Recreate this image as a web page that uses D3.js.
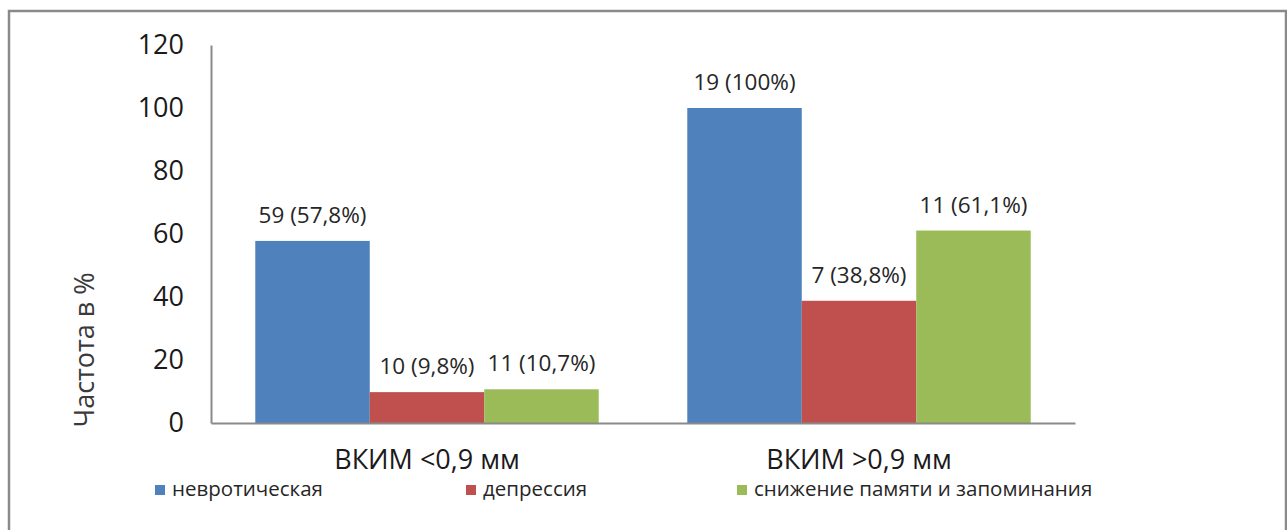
<!DOCTYPE html>
<html>
<head>
<meta charset="utf-8">
<script src="https://cdn.jsdelivr.net/npm/d3@7"></script>
<style>
  body { margin: 0; background: #fff; }
  text { font-family: "Open Sans", sans-serif; }
</style>
</head>
<body>
<script>
// chart data
const groups = ["ВКИМ <0,9 мм", "ВКИМ >0,9 мм"];
const seriesNames = ["невротическая", "депрессия", "снижение памяти и запоминания"];
const colors = ["#4F81BD", "#C0504D", "#9BBB59"];
const values = [
  [57.8, 9.8, 10.7],
  [100, 38.8, 61.1]
];
const labels = [
  ["59 (57,8%)", "10 (9,8%)", "11 (10,7%)"],
  ["19 (100%)", "7 (38,8%)", "11 (61,1%)"]
];
const yTicks = [0, 20, 40, 60, 80, 100, 120];

const width = 1287, height = 530;
const margin = {top: 45, right: 212, bottom: 107, left: 211};

const svg = d3.select("body").append("svg")
    .attr("width", width)
    .attr("height", height);

// outer frame
svg.append("rect")
    .attr("x", 9).attr("y", 11)
    .attr("width", 1277).attr("height", 540)
    .attr("fill", "none")
    .attr("stroke", "#8a8a8a")
    .attr("stroke-width", 2.5);

const x0 = d3.scaleBand()
    .domain(groups)
    .range([margin.left, width - margin.right])
    .paddingInner(0.205)
    .paddingOuter(0.1025);

const x1 = d3.scaleBand()
    .domain(d3.range(seriesNames.length))
    .range([0, x0.bandwidth()]);

const y = d3.scaleLinear()
    .domain([0, 120])
    .range([height - margin.bottom, margin.top]);

// bars
const g = svg.append("g");
groups.forEach((grp, gi) => {
  values[gi].forEach((v, si) => {
    const bx = x0(grp) + x1(si);
    g.append("rect")
        .attr("x", bx)
        .attr("y", y(v))
        .attr("width", x1.bandwidth())
        .attr("height", y(0) - y(v))
        .attr("fill", colors[si]);
    g.append("text")
        .attr("x", bx + x1.bandwidth() / 2)
        .attr("y", y(v) - 18)
        .attr("text-anchor", "middle")
        .attr("font-size", 22.5)
        .attr("fill", "#262626")
        .text(labels[gi][si]);
  });
});

// y axis
const yAxis = d3.axisLeft(y).tickValues(yTicks).tickSize(0).tickPadding(27);
const ya = svg.append("g")
    .attr("transform", `translate(${margin.left},0)`)
    .call(yAxis);
ya.select(".domain").attr("stroke", "#8a8a8a").attr("stroke-width", 2);
ya.selectAll("text")
    .attr("font-family", "Open Sans, sans-serif")
    .attr("font-size", 27)
    .attr("fill", "#1a1a1a");

// x axis
const xAxis = d3.axisBottom(x0).tickSize(0).tickPadding(27);
const xa = svg.append("g")
    .attr("transform", `translate(0,${y(0)})`)
    .call(xAxis);
xa.select(".domain").attr("stroke", "#8a8a8a").attr("stroke-width", 2);
xa.selectAll("text")
    .attr("font-family", "Open Sans, sans-serif")
    .attr("font-size", 27)
    .attr("fill", "#1a1a1a");

// y axis title
svg.append("text")
    .attr("transform", `translate(94,350) rotate(-90)`)
    .attr("text-anchor", "middle")
    .attr("font-size", 27)
    .attr("fill", "#3a3a3a")
    .text("Частота в %");

// legend
const legendX = [155, 466, 737];
const leg = svg.append("g").selectAll("g")
    .data(seriesNames)
    .join("g")
    .attr("transform", (d, i) => `translate(${legendX[i]},485)`);
leg.append("rect")
    .attr("width", 10).attr("height", 10)
    .attr("fill", (d, i) => colors[i]);
leg.append("text")
    .attr("x", 17)
    .attr("y", 11)
    .attr("font-size", 20.5)
    .attr("fill", "#262626")
    .text(d => d);
</script>
</body>
</html>
